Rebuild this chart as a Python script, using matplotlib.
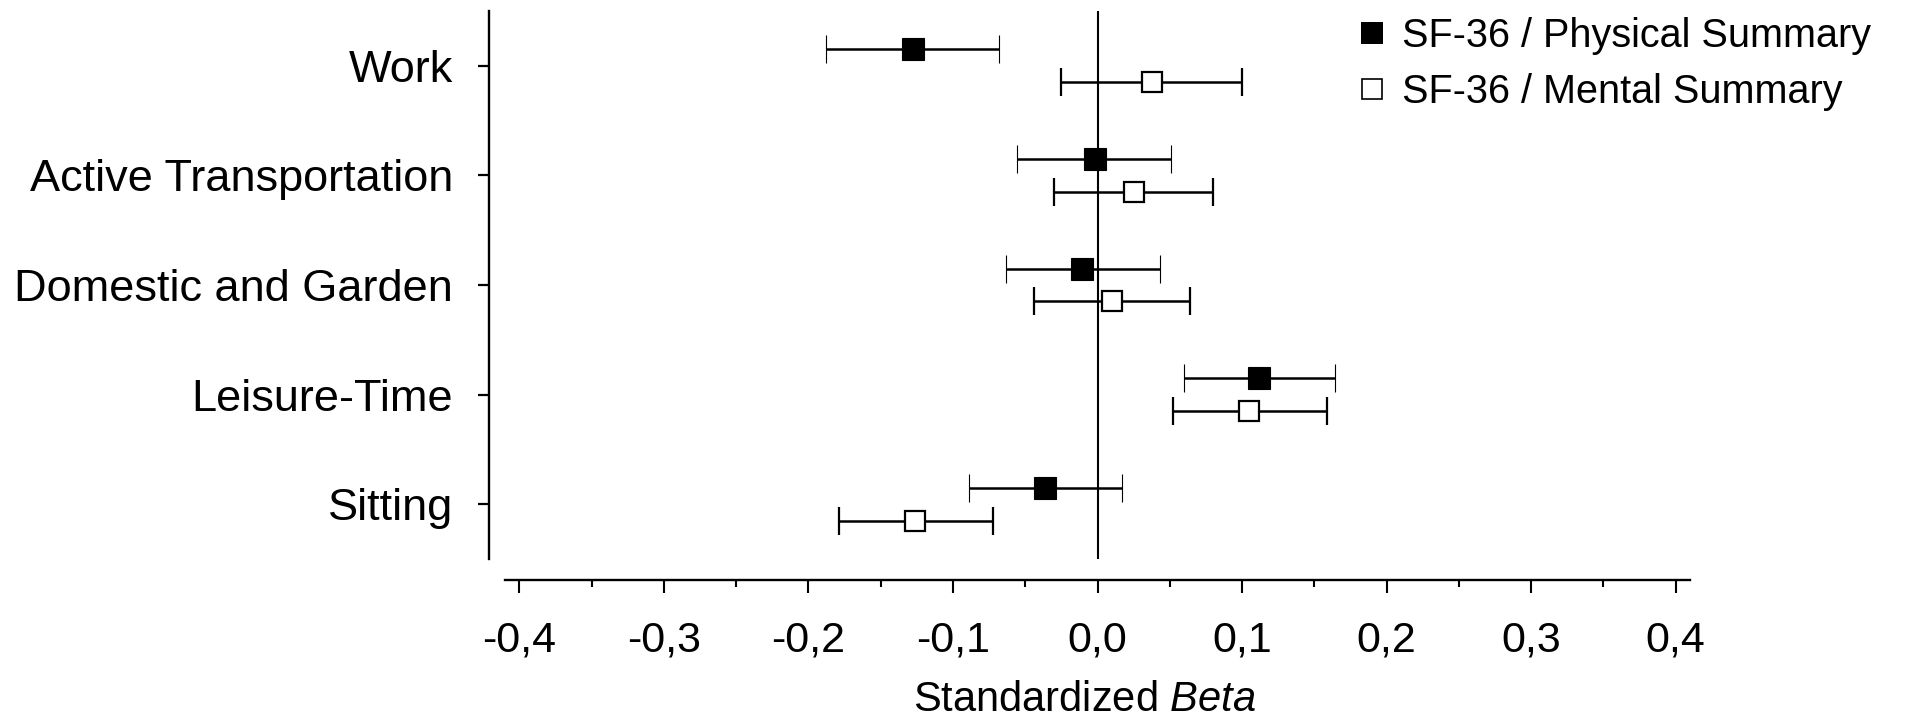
import matplotlib
matplotlib.use("Agg")
import matplotlib.pyplot as plt
from matplotlib.lines import Line2D
from matplotlib.ticker import MultipleLocator, FixedLocator, FixedFormatter
import numpy as np

plt.rcParams['font.family'] = ['Liberation Sans', 'DejaVu Sans']
plt.rcParams['mathtext.fontset'] = 'custom'
plt.rcParams['mathtext.rm'] = 'Liberation Sans'
plt.rcParams['mathtext.it'] = 'Liberation Sans:italic'

# ---- data ----
categories = ["Work", "Active Transportation", "Domestic and Garden", "Leisure-Time", "Sitting"]
physical_beta = [-0.128, -0.002, -0.011, 0.112, -0.036]
physical_lo = [-0.188, -0.056, -0.063, 0.060, -0.089]
physical_hi = [-0.068, 0.051, 0.043, 0.164, 0.017]
mental_beta = [0.038, 0.025, 0.010, 0.105, -0.126]
mental_lo = [-0.025, -0.030, -0.044, 0.052, -0.179]
mental_hi = [0.100, 0.080, 0.064, 0.159, -0.072]
series_labels = ["SF-36 / Physical Summary", "SF-36 / Mental Summary"]
x_ticks = [-0.4, -0.3, -0.2, -0.1, 0.0, 0.1, 0.2, 0.3, 0.4]
x_tick_labels = ["-0,4", "-0,3", "-0,2", "-0,1", "0,0", "0,1", "0,2", "0,3", "0,4"]

W, H = 1913, 719
fig = plt.figure(figsize=(W / 100, H / 100), dpi=100)
ax = fig.add_axes([505 / W, 1 - 559 / H, (1690 - 505) / W, (559 - 11) / H])

pos = np.arange(len(categories))
off = 0.15

ax.axvline(0, color='black', lw=1.5, zorder=1)

pb = np.array(physical_beta)
mb = np.array(mental_beta)
perr = np.vstack([pb - np.array(physical_lo), np.array(physical_hi) - pb])
merr = np.vstack([mb - np.array(mental_lo), np.array(mental_hi) - mb])

ax.errorbar(pb, pos - off, xerr=perr, fmt='s', color='black', ecolor='black',
            elinewidth=1.8, capsize=9.8, capthick=1.8, markersize=16,
            markerfacecolor='black', markeredgecolor='black', markeredgewidth=0.8, zorder=3)
ax.errorbar(mb, pos + off, xerr=merr, fmt='s', color='black', ecolor='black',
            elinewidth=1.8, capsize=9.8, capthick=1.8, markersize=15,
            markerfacecolor='white', markeredgecolor='black', markeredgewidth=1.6, zorder=3)

ax.set_xlim(-0.41, 0.41)
ax.set_ylim(len(categories) - 0.5, -0.5)

ax.xaxis.set_major_locator(FixedLocator(x_ticks))
ax.xaxis.set_major_formatter(FixedFormatter(x_tick_labels))
ax.xaxis.set_minor_locator(MultipleLocator(0.05))
ax.set_yticks(pos)
ax.set_yticklabels(categories)

for s in ['top', 'right']:
    ax.spines[s].set_visible(False)
ax.spines['left'].set_position(('outward', 11.5))
ax.spines['bottom'].set_position(('outward', 15))
ax.spines['left'].set_linewidth(1.7)
ax.spines['bottom'].set_linewidth(1.7)

ax.tick_params(axis='x', which='major', direction='out', length=9.5, width=1.5,
               labelsize=31, pad=20)
ax.tick_params(axis='x', which='minor', direction='out', length=5, width=1.5)
ax.tick_params(axis='y', which='major', direction='out', length=8, width=1.6,
               labelsize=32.5, pad=18)

ax.set_xlabel('Standardized $\\mathit{Beta}$', fontsize=30, labelpad=13.5)
ax.xaxis.label.set_x(0.489)

handles = [
    Line2D([], [], ls='none', marker='s', markersize=15.5, markerfacecolor='black',
           markeredgecolor='black', markeredgewidth=0),
    Line2D([], [], ls='none', marker='s', markersize=14.5, markerfacecolor='white',
           markeredgecolor='black', markeredgewidth=1.2),
]
fig.legend(handles, series_labels, loc='upper left',
           bbox_to_anchor=(1360 / W, 1 - 17 / H), bbox_transform=fig.transFigure,
           frameon=False, fontsize=28.5, borderpad=0, borderaxespad=0,
           handlelength=0.6, handletextpad=0.45, labelspacing=0.45)

fig.savefig('out.png', dpi=100)
